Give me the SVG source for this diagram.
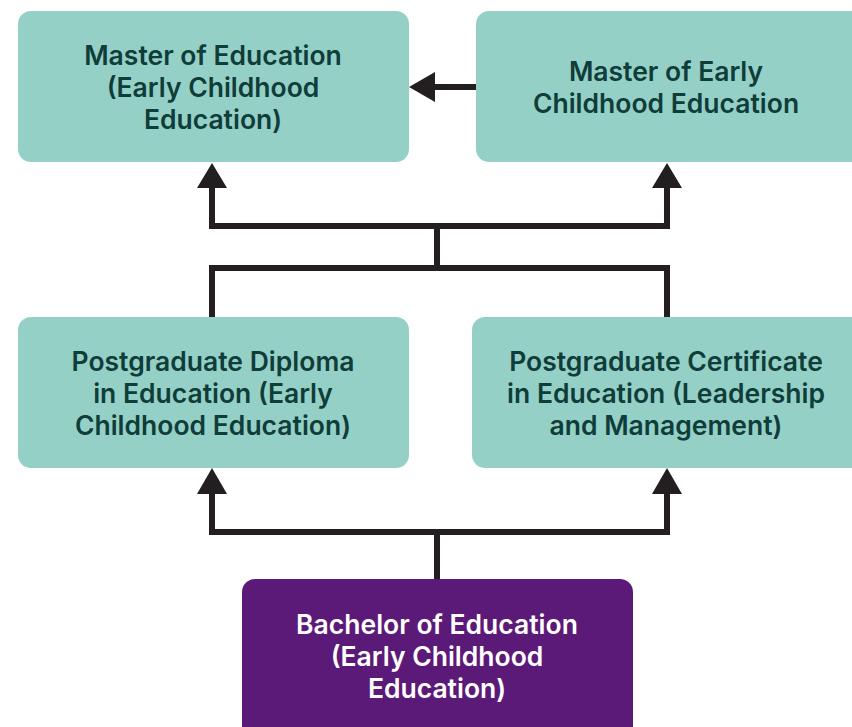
<svg xmlns="http://www.w3.org/2000/svg" width="852" height="727" viewBox="0 0 852 727">
<style>
.teal{fill:#95d0c7}
.purple{fill:#5c1a78}
.t{font-family:Inter,"Liberation Sans",sans-serif;font-weight:600;font-size:26.5px;text-anchor:middle;dominant-baseline:central}
.dark{fill:#0f3d3a}
.light{fill:#ffffff}
.line{fill:none;stroke:#231f20;stroke-width:6;stroke-linejoin:miter}
.head{fill:#231f20}
</style>
<rect width="852" height="727" fill="#ffffff"/>
<g id="connectors">
<path class="line" d="M437,579 V532 M212,532 H667 M212,535 V494 M667,535 V494"/>
<polygon class="head" points="212,468 197,494 227,494"/>
<polygon class="head" points="667,468 652,494 682,494"/>
<path class="line" d="M212,317 V268 M667,317 V268 M209,268 H670 M437,268 V226 M212,226 H667 M212,229 V188 M667,229 V188"/>
<polygon class="head" points="212,163 197,188 227,188"/>
<polygon class="head" points="667,163 652,188 682,188"/>
<path class="line" d="M476,87 H434"/>
<polygon class="head" points="409,87 435,72 435,102"/>
</g>
<g id="master-education">
<rect class="teal" x="18" y="11" width="391" height="151" rx="13"/>
<text class="t dark" x="213" y="55">Master of Education</text>
<text class="t dark" x="213" y="87">(Early Childhood</text>
<text class="t dark" x="213" y="119">Education)</text>
</g>
<g id="master-ece">
<rect class="teal" x="476" y="11" width="390" height="151" rx="13"/>
<text class="t dark" x="666" y="71">Master of Early</text>
<text class="t dark" x="666" y="103">Childhood Education</text>
</g>
<g id="pg-diploma">
<rect class="teal" x="18" y="317" width="391" height="151" rx="13"/>
<text class="t dark" x="213" y="361">Postgraduate Diploma</text>
<text class="t dark" x="213" y="393">in Education (Early</text>
<text class="t dark" x="213" y="425">Childhood Education)</text>
</g>
<g id="pg-certificate">
<rect class="teal" x="472" y="317" width="394" height="151" rx="13"/>
<text class="t dark" x="666" y="361">Postgraduate Certificate</text>
<text class="t dark" x="666" y="393">in Education (Leadership</text>
<text class="t dark" x="666" y="425">and Management)</text>
</g>
<g id="bachelor">
<rect class="purple" x="242" y="579" width="391" height="160" rx="13"/>
<text class="t light" x="437" y="624">Bachelor of Education</text>
<text class="t light" x="437" y="656">(Early Childhood</text>
<text class="t light" x="437" y="688">Education)</text>
</g>
</svg>
